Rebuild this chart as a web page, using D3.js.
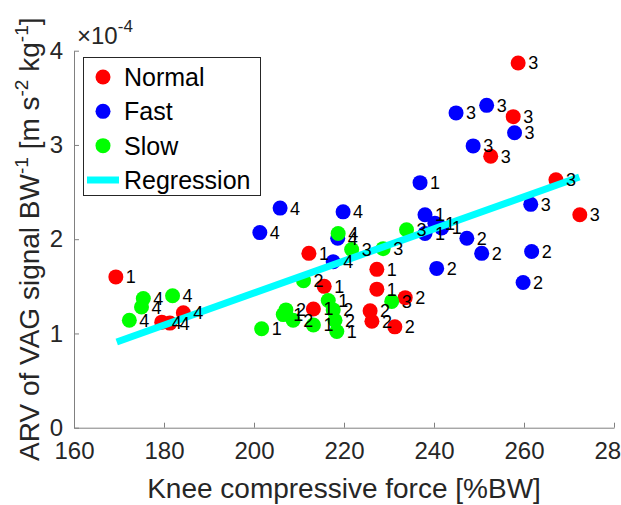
<!DOCTYPE html>
<html>
<head>
<meta charset="utf-8">
<script src="https://cdn.jsdelivr.net/npm/d3@7"></script>
<style>
  body { margin: 0; background: #fff; }
  text { font-family: "Liberation Sans", Arial, sans-serif; }
</style>
</head>
<body>
<div class="chart"></div>
<script>
// data (y values in units of 1e-4)
var normalX = [169.3, 179.5, 181.3, 184.3, 212.2, 215.6, 213.2, 227.3, 227.3, 225.8, 226.2, 231.3, 233.6, 258.7, 257.6, 252.6, 267.1, 272.4];
var normalY = [1.60, 1.12, 1.11, 1.22, 1.85, 1.50, 1.26, 1.68, 1.47, 1.24, 1.13, 1.07, 1.38, 3.87, 3.30, 2.88, 2.63, 2.26];
var normalLab = ["1", "4", "4", "4", "1", "1", "1", "1", "1", "2", "2", "2", "2", "3", "3", "3", "3", "3"];

var fastX = [201.3, 205.8, 219.8, 217.6, 218.6, 236.9, 238.0, 240.2, 238.0, 241.7, 247.3, 250.6, 240.6, 259.8, 261.7, 261.5, 244.9, 251.7, 257.9, 248.7];
var fastY = [2.07, 2.33, 2.29, 1.76, 2.01, 2.60, 2.26, 2.17, 2.06, 2.12, 2.01, 1.85, 1.69, 1.54, 1.87, 2.37, 3.34, 3.42, 3.13, 2.99];
var fastLab = ["4", "4", "4", "4", "4", "1", "1", "1", "1", "1", "2", "2", "2", "2", "2", "3", "3", "3", "3", "3"];

var slowX = [175.4, 181.9, 175.0, 172.3, 201.7, 207.1, 206.5, 208.7, 213.2, 211.0, 216.5, 217.6, 218.0, 218.4, 218.7, 221.7, 228.7, 233.9, 230.6];
var slowY = [1.37, 1.40, 1.28, 1.14, 1.05, 1.25, 1.20, 1.14, 1.09, 1.56, 1.35, 1.25, 1.14, 1.02, 2.06, 1.89, 1.90, 2.10, 1.34];
var slowLab = ["4", "4", "4", "4", "1", "2", "1", "2", "1", "2", "1", "2", "2", "1", "4", "3", "3", "3", "3"];

var regX = [169.5, 272.3];
var regY = [0.91, 2.66];

var xTicks = [160, 180, 200, 220, 240, 260, 280];
var yTicks = [0, 1, 2, 3, 4];
var legendNames = ["Normal", "Fast", "Slow", "Regression"];

var width = 621, height = 505;
var margin = {top: 50.7, right: 7, bottom: 77.3, left: 74};

var svg = d3.select(".chart").append("svg")
    .attr("width", width)
    .attr("height", height);

var xScale = d3.scaleLinear().domain([160, 280]).range([margin.left, width - margin.right]);
var yScale = d3.scaleLinear().domain([0, 4]).range([height - margin.bottom, margin.top]);

var axisColor = "#262626";

// x axis (ticks point inward)
var xAxis = svg.append("g")
    .attr("transform", "translate(0," + yScale(0) + ")")
    .call(d3.axisBottom(xScale).tickValues(xTicks).tickFormat(d3.format("d"))
        .tickSize(-5).tickPadding(14).tickSizeOuter(0));
xAxis.select(".domain").attr("stroke", "#808080");
xAxis.selectAll(".tick line").attr("stroke", "#808080");
xAxis.selectAll(".tick text")
    .attr("font-size", 24)
    .attr("fill", axisColor)
    .attr("dy", "0.71em");

// y axis
var yAxis = svg.append("g")
    .attr("transform", "translate(" + xScale(160) + ",0)")
    .call(d3.axisLeft(yScale).tickValues(yTicks).tickFormat(d3.format("d"))
        .tickSize(-5).tickPadding(11).tickSizeOuter(0));
yAxis.select(".domain").attr("stroke", "#808080");
yAxis.selectAll(".tick line").attr("stroke", "#808080");
yAxis.selectAll(".tick text")
    .attr("font-size", 24)
    .attr("fill", axisColor);

// exponent
var expo = svg.append("text")
    .attr("x", 77).attr("y", 44)
    .attr("font-size", 24).attr("fill", axisColor);
expo.append("tspan").text("\u00d710");
expo.append("tspan").attr("font-size", 17).attr("dy", -12).text("-4");

// axis labels
svg.append("text")
    .attr("x", (xScale(160) + xScale(280)) / 2)
    .attr("y", 498)
    .attr("text-anchor", "middle")
    .attr("font-size", 28)
    .attr("fill", axisColor)
    .text("Knee compressive force [%BW]");

var yl = svg.append("text")
    .attr("transform", "translate(39," + (yScale(0) + yScale(4)) / 2 + ") rotate(-90)")
    .attr("text-anchor", "middle")
    .attr("font-size", 28)
    .attr("fill", axisColor);
yl.append("tspan").text("ARV of VAG signal BW");
yl.append("tspan").attr("font-size", 19).attr("dy", -11).text("-1");
yl.append("tspan").attr("dy", 11).text(" [m s");
yl.append("tspan").attr("font-size", 19).attr("dy", -11).text("-2");
yl.append("tspan").attr("dy", 11).text(" kg");
yl.append("tspan").attr("font-size", 19).attr("dy", -11).text("-1");
yl.append("tspan").attr("dy", 11).text("]");

// points
function makeRows(xs, ys, labs) {
    return xs.map(function(x, i){ return {x: x, y: ys[i], lab: labs[i]}; });
}
var groups = [
    {rows: makeRows(fastX, fastY, fastLab), color: "#0000ff"},
    {rows: makeRows(normalX, normalY, normalLab), color: "#ff0000"},
    {rows: makeRows(slowX, slowY, slowLab), color: "#00ff00"}
];

groups.forEach(function(g){
    svg.append("g").selectAll("circle")
        .data(g.rows)
        .enter().append("circle")
        .attr("cx", function(d){ return xScale(d.x); })
        .attr("cy", function(d){ return yScale(d.y); })
        .attr("r", 7.5)
        .attr("fill", g.color);
});

// regression line
svg.append("line")
    .attr("x1", xScale(regX[0])).attr("y1", yScale(regY[0]))
    .attr("x2", xScale(regX[1])).attr("y2", yScale(regY[1]))
    .attr("stroke", "#00ffff")
    .attr("stroke-width", 7);

// point labels
groups.forEach(function(g){
    svg.append("g").selectAll("text")
        .data(g.rows)
        .enter().append("text")
        .attr("x", function(d){ return xScale(d.x) + 10; })
        .attr("y", function(d){ return yScale(d.y); })
        .attr("dy", "0.36em")
        .attr("font-size", 18)
        .attr("fill", "#000")
        .text(function(d){ return d.lab; });
});

// legend
var legend = svg.append("g");
legend.append("rect")
    .attr("x", 83.5).attr("y", 57.5)
    .attr("width", 177).attr("height", 138)
    .attr("fill", "#fff")
    .attr("stroke", axisColor)
    .attr("stroke-width", 1);
var legColors = ["#ff0000", "#0000ff", "#00ff00", "#00ffff"];
var legY = d3.scalePoint().domain(legendNames).range([77, 180]);
legendNames.forEach(function(name, i){
    var yy = legY(name);
    if (i < 3) {
        legend.append("circle").attr("cx", 103).attr("cy", yy).attr("r", 7.5).attr("fill", legColors[i]);
    } else {
        legend.append("line").attr("x1", 87).attr("x2", 119).attr("y1", yy).attr("y2", yy)
            .attr("stroke", legColors[i]).attr("stroke-width", 7);
    }
    legend.append("text")
        .attr("x", 124).attr("y", yy)
        .attr("dy", "0.36em")
        .attr("font-size", 25)
        .attr("fill", "#000")
        .text(name);
});
</script>
</body>
</html>
